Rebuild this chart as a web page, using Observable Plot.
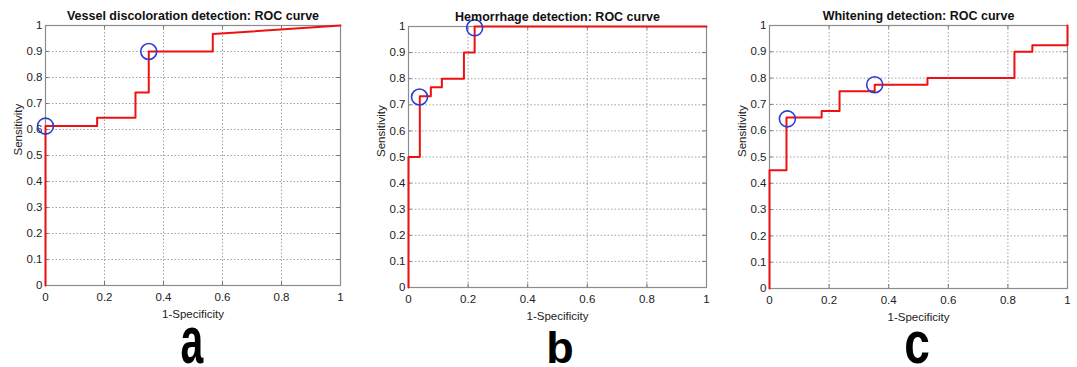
<!DOCTYPE html>
<html>
<head>
<meta charset="utf-8">
<script src="https://cdn.jsdelivr.net/npm/d3@7"></script>
<script src="https://cdn.jsdelivr.net/npm/@observablehq/plot@0.6"></script>
<style>
  html, body { margin: 0; padding: 0; background: #fff; }
  #wrap { position: relative; width: 1077px; height: 367px; overflow: hidden; font-family: "Liberation Sans", Arial, sans-serif; }
  .panel { position: absolute; top: 0; }
  #letters { position: absolute; left: 0; top: 0; }
</style>
</head>
<body>
<div id="wrap"></div>
<script>
// ---- data ----
const titles = ["Vessel discoloration detection: ROC curve", "Hemorrhage detection: ROC curve", "Whitening detection: ROC curve"];
const panelLetters = ["a", "b", "c"];
const xLabel = "1-Specificity";
const yLabel = "Sensitivity";
const xTicks = [0, 0.2, 0.4, 0.6, 0.8, 1];
const yTicks = [0, 0.1, 0.2, 0.3, 0.4, 0.5, 0.6, 0.7, 0.8, 0.9, 1];

// ROC curve vertices (1-specificity, sensitivity)
const fprA = [0, 0, 0.175, 0.175, 0.305, 0.305, 0.35, 0.35, 0.567, 0.567, 1];
const tprA = [0, 0.613, 0.613, 0.645, 0.645, 0.742, 0.742, 0.9, 0.9, 0.967, 1];
const fprB = [0, 0, 0.038, 0.038, 0.075, 0.075, 0.112, 0.112, 0.186, 0.186, 0.222, 0.222, 1];
const tprB = [0, 0.5, 0.5, 0.733, 0.733, 0.767, 0.767, 0.8, 0.8, 0.9, 0.9, 1, 1];
const fprC = [0, 0, 0.057, 0.057, 0.175, 0.175, 0.235, 0.235, 0.353, 0.353, 0.53, 0.53, 0.822, 0.822, 0.882, 0.882, 1, 1];
const tprC = [0, 0.45, 0.45, 0.65, 0.65, 0.675, 0.675, 0.75, 0.75, 0.775, 0.775, 0.8, 0.8, 0.9, 0.9, 0.925, 0.925, 1];

// highlighted operating points (circles)
const circFprA = [0, 0.35];
const circTprA = [0.613, 0.9];
const circFprB = [0.037, 0.222];
const circTprB = [0.73, 0.995];
const circFprC = [0.06, 0.353];
const circTprC = [0.645, 0.775];

// ---- layout ----
const panels = [
  {left: 0,   width: 360, ml: 45, mr: 20, mt: 25, mb: 45, fpr: fprA, tpr: tprA, cx: circFprA, cy: circTprA},
  {left: 360, width: 360, ml: 48, mr: 14, mt: 26, mb: 43, fpr: fprB, tpr: tprB, cx: circFprB, cy: circTprB},
  {left: 720, width: 357, ml: 49, mr: 10, mt: 25, mb: 42, fpr: fprC, tpr: tprC, cx: circFprC, cy: circTprC}
];
const letterStyle = [
  {x: 192, size: 66, sx: 0.62},
  {x: 560, size: 45, sx: 1.0},
  {x: 917, size: 59, sx: 0.78}
];

const wrap = document.getElementById("wrap");
const fmt = d => String(d);

panels.forEach((p, i) => {
  const curve = p.fpr.map((x, k) => ({x, y: p.tpr[k]}));
  const circles = p.cx.map((x, k) => ({x, y: p.cy[k]}));
  const innerX = xTicks.filter(d => d > 0 && d < 1);
  const innerY = yTicks.filter(d => d > 0 && d < 1);
  const chart = Plot.plot({
    width: p.width,
    height: 330,
    marginLeft: p.ml, marginRight: p.mr, marginTop: p.mt, marginBottom: p.mb,
    style: {fontFamily: "'Liberation Sans', Arial, sans-serif", fontSize: "11.5px", color: "#222", background: "transparent", overflow: "visible"},
    x: {domain: [0, 1]},
    y: {domain: [0, 1]},
    marks: [
      Plot.ruleX(innerX, {x: d => d, stroke: "#8a8a8a", strokeWidth: 0.8, strokeDasharray: "1.5,2"}),
      Plot.ruleY(innerY, {y: d => d, stroke: "#8a8a8a", strokeWidth: 0.8, strokeDasharray: "1.5,2"}),
      // inward tick marks on all four sides
      Plot.ruleX(xTicks, {x: d => d, y1: 0, y2: 0.014, stroke: "#555", strokeWidth: 0.8}),
      Plot.ruleX(xTicks, {x: d => d, y1: 0.986, y2: 1, stroke: "#555", strokeWidth: 0.8}),
      Plot.ruleY(yTicks, {y: d => d, x1: 0, x2: 0.012, stroke: "#555", strokeWidth: 0.8}),
      Plot.ruleY(yTicks, {y: d => d, x1: 0.988, x2: 1, stroke: "#555", strokeWidth: 0.8}),
      Plot.frame({stroke: "#8c8c8c", strokeWidth: 1.2}),
      Plot.axisX(xTicks, {tickSize: 0, tickPadding: 7, tickFormat: fmt, label: null, fill: "#222"}),
      Plot.axisY(yTicks, {tickSize: 0, tickPadding: 3, tickFormat: fmt, label: null, fill: "#222"}),
      Plot.line(curve, {x: "x", y: "y", stroke: "#ee1111", strokeWidth: 2, curve: "linear"}),
      Plot.dot(circles, {x: "x", y: "y", r: 8, stroke: "#2a3bd6", strokeWidth: 1.6, fill: "none"}),
      Plot.text([titles[i]], {frameAnchor: "top", lineAnchor: "middle", dy: -10, fontWeight: "bold", fontSize: 12.5, fill: "#111"}),
      Plot.text([xLabel], {frameAnchor: "bottom", lineAnchor: "middle", dy: 29, fontSize: 11.5, fill: "#222"}),
      Plot.text([yLabel], {frameAnchor: "left", dx: -27, rotate: -90, fontSize: 11.5, fill: "#222"})
    ]
  });
  chart.classList.add("panel");
  chart.style.left = p.left + "px";
  wrap.appendChild(chart);
});

// large panel letters as SVG text, baseline near the bottom
const svg = d3.select(wrap).append("svg")
  .attr("id", "letters")
  .attr("width", 1077).attr("height", 367);
panelLetters.forEach((t, i) => {
  const s = letterStyle[i];
  svg.append("text")
    .attr("transform", `translate(${s.x},363) scale(${s.sx},1)`)
    .attr("text-anchor", "middle")
    .attr("font-family", "'Liberation Sans', Arial, sans-serif")
    .attr("font-weight", "bold")
    .attr("font-size", s.size)
    .attr("fill", "#000")
    .text(t);
});
</script>
</body>
</html>
